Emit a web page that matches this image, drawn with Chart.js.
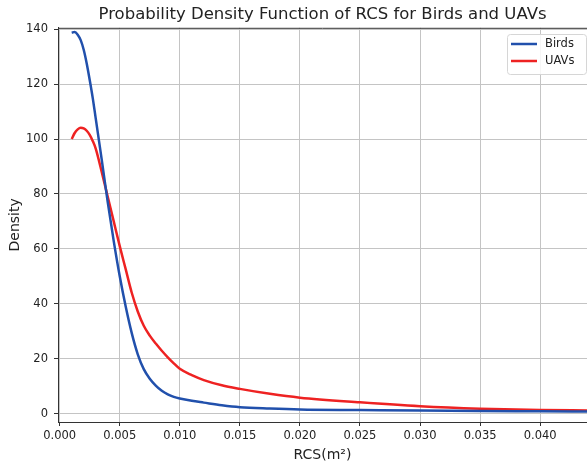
<!DOCTYPE html>
<html>
<head>
<meta charset="utf-8">
<script src="https://cdn.jsdelivr.net/npm/chart.js@4.4.1/dist/chart.umd.min.js"></script>
<style>
  html, body { margin: 0; padding: 0; background: #ffffff; }
  #wrap { width: 587px; height: 469px; position: relative; }
</style>
</head>
<body>
<div id="wrap"><canvas id="c" width="587" height="469"></canvas></div>
<script>
const chartTitle = 'Probability Density Function of RCS for Birds and UAVs';
const xLabel = 'RCS(m²)';
const yLabel = 'Density';
const seriesNames = ['Birds', 'UAVs'];
const seriesColors = ['#2150ac', '#ee2222'];

const rcsValues = [0.001, 0.00125, 0.0015, 0.00175, 0.002, 0.00225, 0.0025, 0.00275, 0.003, 0.0035,
                   0.004, 0.0045, 0.005, 0.0055, 0.006, 0.0065, 0.007, 0.0075, 0.008, 0.0085,
                   0.009, 0.0095, 0.010, 0.011, 0.012, 0.0135, 0.015, 0.0175, 0.020, 0.025,
                   0.030, 0.035, 0.040, 0.044];
const birdsDensity = [138.7, 139.0, 138.0, 136.0, 132.5, 127.5, 121.5, 115, 107.5, 92.5,
                      77, 62.8, 50.0, 38.9, 29.3, 21.6, 16.2, 12.7, 10.2, 8.3,
                      7.0, 6.1, 5.5, 4.65, 4.0, 3.05, 2.35, 1.85, 1.5, 1.3,
                      1.1, 0.95, 0.85, 0.75];
const uavsDensity = [100, 102.2, 103.5, 104.1, 103.9, 103.0, 101.5, 99.3, 96.5, 88,
                     79, 70, 61, 52.5, 44, 37.2, 32.0, 28.4, 25.5, 22.9,
                     20.5, 18.3, 16.3, 14.0, 12.2, 10.3, 9.0, 7.2, 5.8, 4.1,
                     2.7, 1.8, 1.3, 1.15];

const xTicks = [0.000, 0.005, 0.010, 0.015, 0.020, 0.025, 0.030, 0.035, 0.040];
const yTicks = [0, 20, 40, 60, 80, 100, 120, 140];

const FONT = 'DejaVu Sans';
const TXT = '#222222';

function toPoints(xs, ys) { return xs.map((x, i) => ({ x: x, y: ys[i] })); }

const frame = {
  id: 'frame',
  afterDatasetsDraw(chart) {
    const { ctx, chartArea: a } = chart;
    ctx.save();
    ctx.strokeStyle = '#333333';
    ctx.lineWidth = 1;
    ctx.beginPath();
    ctx.moveTo(a.left, a.top + 0.5);
    ctx.lineTo(a.right, a.top + 0.5);
    ctx.stroke();
    // legend
    const bx = 507.5, by = 34.5, bw = 79, bh = 40;
    ctx.fillStyle = 'rgba(255,255,255,0.85)';
    ctx.strokeStyle = '#d6d6d6';
    ctx.beginPath();
    if (ctx.roundRect) ctx.roundRect(bx, by, bw, bh, 3); else ctx.rect(bx, by, bw, bh);
    ctx.fill();
    ctx.stroke();
    chart.data.datasets.forEach((ds, i) => {
      const y = 44 + i * 17;
      ctx.strokeStyle = ds.borderColor;
      ctx.lineWidth = 2.5;
      ctx.beginPath();
      ctx.moveTo(511, y);
      ctx.lineTo(537, y);
      ctx.stroke();
      ctx.fillStyle = TXT;
      ctx.font = '11.5px "' + FONT + '"';
      ctx.textBaseline = 'middle';
      ctx.textAlign = 'left';
      ctx.fillText(ds.label, 545, y + 0.5);
    });
    ctx.restore();
  }
};

new Chart(document.getElementById('c'), {
  type: 'line',
  data: {
    datasets: [
      { label: seriesNames[0], data: toPoints(rcsValues, birdsDensity), borderColor: seriesColors[0] },
      { label: seriesNames[1], data: toPoints(rcsValues, uavsDensity), borderColor: seriesColors[1] }
    ]
  },
  options: {
    responsive: false,
    animation: false,
    devicePixelRatio: 1,
    layout: { padding: 0 },
    elements: {
      line: { borderWidth: 2.5, cubicInterpolationMode: 'monotone', fill: false },
      point: { radius: 0, hoverRadius: 0 }
    },
    plugins: {
      legend: { display: false },
      tooltip: { enabled: false },
      title: {
        display: true,
        text: chartTitle,
        fullSize: false,
        color: TXT,
        font: { family: FONT, size: 16.5, weight: 'normal', lineHeight: 1.2 },
        padding: { top: 5, bottom: 3 }
      }
    },
    scales: {
      x: {
        type: 'linear',
        min: -0.00014,
        max: 0.0439,
        afterBuildTicks(s) { s.ticks = xTicks.map(v => ({ value: v })); },
        afterFit(s) { s.height = 47; },
        ticks: {
          color: TXT,
          font: { family: FONT, size: 11.5 },
          padding: 3,
          maxRotation: 0,
          autoSkip: false,
          callback: v => Number(v).toFixed(3)
        },
        grid: { color: '#c4c4c4', lineWidth: 1, tickLength: 4, tickColor: '#333333', drawTicks: true },
        border: { display: true, color: '#333333', width: 1 },
        title: {
          display: true, text: xLabel, color: TXT,
          font: { family: FONT, size: 14, lineHeight: 1.2 },
          padding: { top: 0, bottom: 5.5 }
        }
      },
      y: {
        type: 'linear',
        min: -3.06,
        max: 140.5,
        afterBuildTicks(s) { s.ticks = yTicks.map(v => ({ value: v })); },
        afterFit(s) { s.width = 58; },
        ticks: {
          color: TXT,
          font: { family: FONT, size: 11.5 },
          padding: 6,
          autoSkip: false,
          callback: v => String(v)
        },
        grid: { color: '#c4c4c4', lineWidth: 1, tickLength: 4, tickColor: '#333333', drawTicks: true },
        border: { display: true, color: '#333333', width: 1 },
        title: {
          display: true, text: yLabel, color: TXT,
          font: { family: FONT, size: 14, lineHeight: 1.2 },
          padding: { top: 6.5, bottom: 4 }
        }
      }
    }
  },
  plugins: [frame]
});
</script>
</body>
</html>
